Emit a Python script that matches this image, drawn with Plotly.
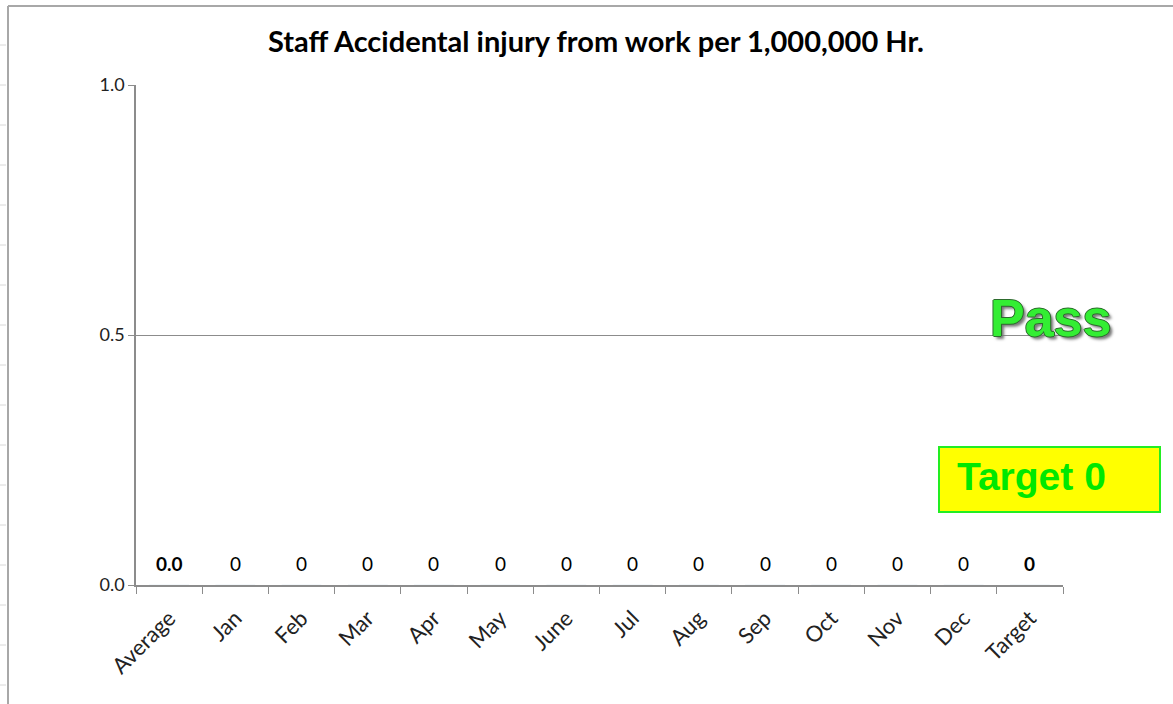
import plotly.graph_objects as go

categories = ["Average", "Jan", "Feb", "Mar", "Apr", "May", "June", "Jul",
              "Aug", "Sep", "Oct", "Nov", "Dec", "Target"]
values = [0.0, 0, 0, 0, 0, 0, 0, 0, 0, 0, 0, 0, 0, 0]
value_labels = ["0.0", "0", "0", "0", "0", "0", "0", "0", "0", "0", "0", "0", "0", "0"]
bold_labels = ["Average", "Target"]
y_ticks = [0.0, 0.5, 1.0]

FONT = "Lato, 'Open Sans', sans-serif"
ARIAL = "Arial, 'Liberation Sans', sans-serif"

# plot-area pixel geometry (used only to place decorations in paper coords)
PL, PT, PW, PH = 136, 85, 927, 500


def px(x):
    return (x - PL) / PW


def py(y):
    return (PT + PH - y) / PH


fig = go.Figure()
fig.add_trace(go.Bar(x=categories, y=values, marker_color="#4472c4",
                     showlegend=False, hoverinfo="x+y"))

annotations = []
for c, v, t in zip(categories, values, value_labels):
    txt = f"<b>{t}</b>" if c in bold_labels else t
    annotations.append(dict(x=c, y=v, xref="x", yref="y", text=txt,
                            showarrow=False, yshift=22,
                            font=dict(family=FONT, size=19, color="#000000")))

# Pass text
annotations.append(dict(
    x=px(1050), y=py(318), xref="paper", yref="paper",
    text="<b>Pass</b>",
    showarrow=False, xanchor="center", yanchor="middle",
    font=dict(family=ARIAL, size=52, color="#33ee33",
              shadow="1px 0 0 #2d6b2d, -1px 0 0 #2d6b2d, 0 1px 0 #2d6b2d, 0 -1px 0 #2d6b2d, 3px 3px 3px #777777")))

# Target box text
annotations.append(dict(
    x=px(955), y=py(476), xref="paper", yref="paper",
    text="<b>Target 0</b>",
    showarrow=False, xanchor="left", yanchor="middle",
    font=dict(family=ARIAL, size=39, color="#00e800")))

shapes = []
# Target box
shapes.append(dict(type="rect", xref="paper", yref="paper",
                   x0=px(939), x1=px(1160), y0=py(512), y1=py(447),
                   fillcolor="#ffff00", line=dict(color="#22ee22", width=2),
                   layer="above"))
# outer chart frame (left and top borders)
shapes.append(dict(type="line", xref="paper", yref="paper",
                   x0=px(8), x1=px(8), y0=py(6), y1=py(720),
                   line=dict(color="#a8a8a8", width=2)))
shapes.append(dict(type="line", xref="paper", yref="paper",
                   x0=px(8), x1=px(1180), y0=py(6), y1=py(6),
                   line=dict(color="#a8a8a8", width=2)))
# faint spreadsheet row marks along the left edge
for yy in range(45, 704, 40):
    shapes.append(dict(type="line", xref="paper", yref="paper",
                       x0=px(0), x1=px(6), y0=py(yy), y1=py(yy),
                       line=dict(color="#d8d8d8", width=1)))

fig.update_layout(
    width=1173, height=704,
    margin=dict(l=PL, r=1173 - PL - PW, t=PT, b=704 - PT - PH),
    paper_bgcolor="white", plot_bgcolor="white",
    title=dict(text="<b>Staff Accidental injury from work per 1,000,000 Hr.</b>",
               x=596 / 1173, xref="container", xanchor="center",
               y=1 - 42 / 704, yref="container", yanchor="middle",
               font=dict(family=FONT, size=29, color="#000000")),
    xaxis=dict(type="category", categoryorder="array", categoryarray=categories,
               range=[-0.5, len(categories) - 0.5],
               showline=True, linecolor="#8c8c8c", linewidth=1.5,
               ticks="outside", tickson="boundaries", ticklen=7, tickcolor="#8c8c8c",
               tickangle=-45, showgrid=False, ticklabelstandoff=10,
               tickfont=dict(family=FONT, size=22, color="#222222")),
    yaxis=dict(range=[0, 1], tickvals=y_ticks, tickformat=".1f",
               showline=True, linecolor="#8c8c8c", linewidth=1.5,
               ticks="outside", ticklen=6, tickcolor="#8c8c8c",
               showgrid=True, gridcolor="#8c8c8c", gridwidth=1,
               zeroline=False,
               tickfont=dict(family=FONT, size=18, color="#222222")),
    annotations=annotations,
    shapes=shapes,
    bargap=0.4,
)

fig.write_html("out.html", config={"displayModeBar": False},
               post_script="document.body.style.margin='0';document.body.style.padding='0';")
